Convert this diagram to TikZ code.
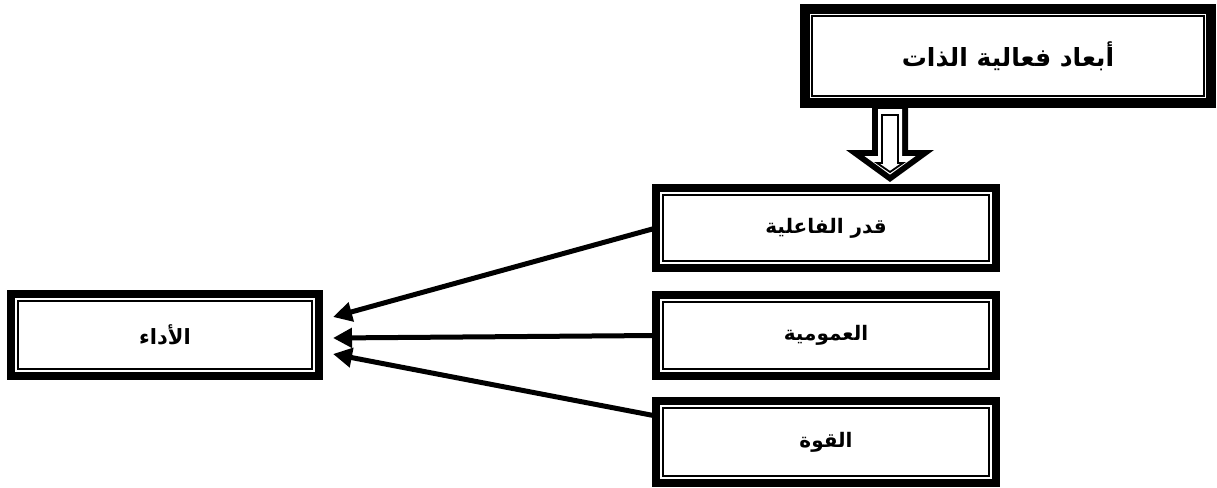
\documentclass[tikz,border=0pt]{standalone}
\usepackage{fontspec}
\TeXXeTstate=1
\newfontfamily\arabicfont[Script=Arabic]{DejaVu Sans}
\usetikzlibrary{arrows.meta}
\begin{document}
\begin{tikzpicture}[x=1pt,y=-1pt,
  frame/.style={draw, line width=8.5pt, inner sep=0pt, outer sep=0pt},
  lbl/.style={font=\arabicfont\bfseries\fontsize{#1}{#1}\selectfont},
  link/.style={line width=5pt, -{Triangle[length=19pt,width=19pt]}}]
\useasboundingbox (0,0) rectangle (1217,487);
\node[frame, line width=10pt, minimum width=406pt, minimum height=94pt, lbl=25] (top) at (1008,56) {\beginR أبعاد فعالية الذات\endR};
\node[frame, minimum width=340pt, minimum height=80pt, lbl=20] (b1) at (826,228) {\beginR قدر الفاعلية\endR};
\node[frame, minimum width=340pt, minimum height=81pt, lbl=20] (b2) at (826,335.5) {\beginR العمومية\endR};
\node[frame, minimum width=340pt, minimum height=82pt, lbl=20] (b3) at (826,442) {\beginR القوة\endR};
\node[frame, minimum width=308pt, minimum height=82pt, lbl=21] (L) at (165,335) {\beginR الأداء\endR};
\foreach \n in {top,b1,b2,b3,L}
  \draw[line width=2.4pt] ([shift={(7pt,-7pt)}]\n.north west) rectangle ([shift={(-7pt,7pt)}]\n.south east);
% hollow block arrow
\path ([xshift=-118pt]top.south) coordinate (ha);
\fill[black] (ha) ++(-18,0) -- ++(0,47) -- ++(-26,0) -- ++(44,32) -- ++(44,-32) -- ++(-26,0) -- ++(0,-47) -- cycle;
\fill[white] (ha) ++(-12,6) -- ++(0,47) -- ++(-13.6,0) -- ++(25.6,18.6) -- ++(25.6,-18.6) -- ++(-13.6,0) -- ++(0,-47) -- cycle;
\draw[line width=1.8pt, fill=white] (ha) ++(-8,12) -- ++(0,48) -- ++(-5,0) -- ++(13,9) -- ++(13,-9) -- ++(-5,0) -- ++(0,-48) -- cycle;
% connectors
\draw[link] (b1.west) -- ([shift={(14pt,18pt)}]L.east);
\draw[link] (b2.west) -- ([shift={(14pt,-3pt)}]L.east);
\draw[link] ([yshift=26pt]b3.west) -- ([shift={(14pt,-19pt)}]L.east);
\end{tikzpicture}
\end{document}
